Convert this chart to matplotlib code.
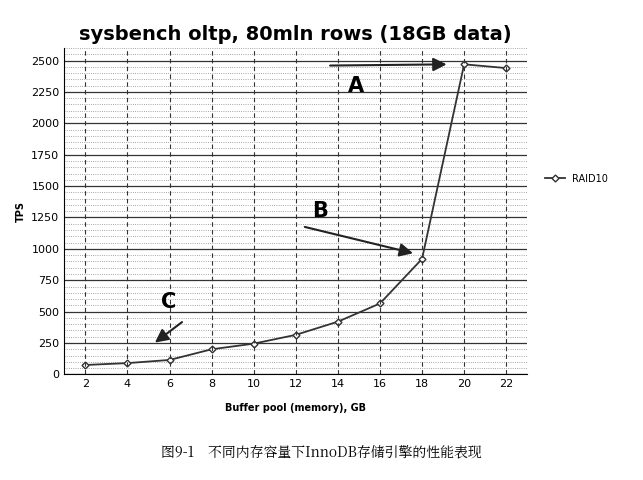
import matplotlib.pyplot as plt

plt.rcParams['font.family'] = ['DejaVu Sans', 'Noto Sans CJK SC']

buffer_gb = [2, 4, 6, 8, 10, 12, 14, 16, 18, 20, 22]
tps = [75, 90, 115, 200, 245, 315, 420, 565, 920, 2470, 2440]

fig = plt.figure(figsize=(6.43, 4.8), dpi=100)
ax = fig.add_axes([0.10, 0.22, 0.72, 0.68])

ax.plot(buffer_gb, tps, color='#333333', lw=1.3, marker='D', ms=3.5,
        mfc='white', mec='#333333', label='RAID10')

ax.set_xlim(1, 23)
ax.set_ylim(0, 2600)
ax.set_xticks(buffer_gb)
ax.set_yticks(range(0, 2501, 250))
ax.set_yticks(range(0, 2601, 50), minor=True)
ax.tick_params(labelsize=8, length=0, which='both')
ax.grid(axis='y', which='major', color='#333333', lw=0.9)
ax.grid(axis='y', which='minor', color='#888888', lw=0.6, ls=':')
for x in buffer_gb:
    ax.axvline(x, color='#333333', lw=0.8, ls=(0, (4, 3)))
for s in ['top', 'right']:
    ax.spines[s].set_visible(False)

ax.set_title('sysbench oltp, 80mln rows (18GB data)', fontsize=14, fontweight='bold', pad=6)
ax.set_xlabel('Buffer pool (memory), GB', fontsize=7, fontweight='bold', labelpad=10)
ax.set_ylabel('TPS', fontsize=7, fontweight='bold')
ax.legend(loc='center left', bbox_to_anchor=(1.02, 0.6), frameon=False, fontsize=7)

arrow = dict(arrowstyle='-|>,head_width=0.4,head_length=0.8', color='#222222', lw=1.5)
ax.annotate('', xy=(19.3, 2470), xytext=(13.5, 2460), arrowprops=arrow)
ax.text(14.5, 2250, 'A', fontsize=15, fontweight='bold')
ax.annotate('', xy=(17.7, 960), xytext=(12.3, 1180), arrowprops=arrow)
ax.text(12.8, 1250, 'B', fontsize=15, fontweight='bold')
ax.annotate('', xy=(5.2, 240), xytext=(6.7, 430), arrowprops=arrow)
ax.text(5.6, 530, 'C', fontsize=15, fontweight='bold')

fig.text(0.5, 0.05, '图9-1　不同内存容量下InnoDB存储引擎的性能表现',
         ha='center', fontsize=10, family=['Noto Serif CJK SC', 'Noto Sans CJK SC', 'DejaVu Sans'])

fig.savefig('out.png')
